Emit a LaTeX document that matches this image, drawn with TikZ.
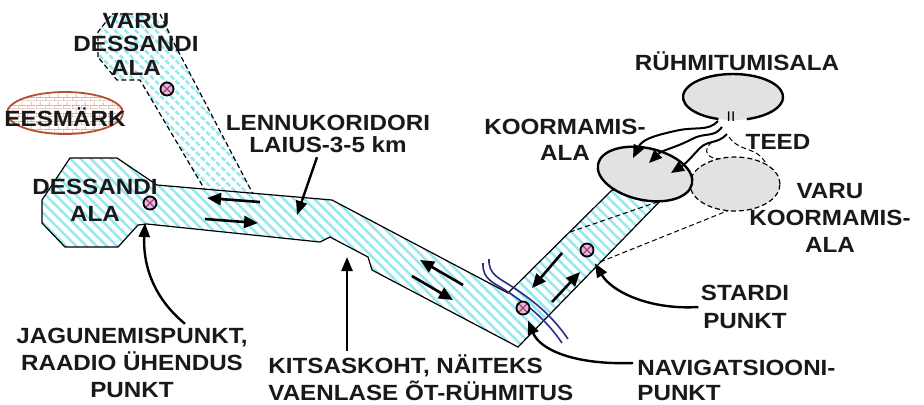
\documentclass[tikz,border=0pt]{standalone}
\usepackage{fontspec}
\setmainfont{Liberation Sans}[FakeStretch=1.1]
\usetikzlibrary{arrows.meta, shapes.geometric, patterns, patterns.meta}
\definecolor{hatchCyan}{RGB}{150,232,240}
\definecolor{areaGray}{RGB}{226,226,226}
\definecolor{pointPink}{RGB}{232,184,214}
\definecolor{crossPink}{RGB}{150,70,130}
\definecolor{riverBlue}{RGB}{45,45,140}
\definecolor{brickRed}{RGB}{180,80,50}
\pgfdeclarepatternformonly{smallBricks}{\pgfpointorigin}{\pgfpoint{4.5pt}{4pt}}{\pgfpoint{4.5pt}{4pt}}{
    \pgfsetlinewidth{0.35pt}
    \pgfpathmoveto{\pgfpoint{0pt}{0pt}}\pgfpathlineto{\pgfpoint{4.5pt}{0pt}}
    \pgfpathmoveto{\pgfpoint{0pt}{2pt}}\pgfpathlineto{\pgfpoint{4.5pt}{2pt}}
    \pgfpathmoveto{\pgfpoint{0pt}{0pt}}\pgfpathlineto{\pgfpoint{0pt}{2pt}}
    \pgfpathmoveto{\pgfpoint{2.25pt}{2pt}}\pgfpathlineto{\pgfpoint{2.25pt}{4pt}}
    \pgfusepath{stroke}
}
\tikzset{
    corridorArea/.style={
        draw=black,
        line width=0.6pt,
        preaction={fill=white},
        pattern={Lines[angle=-45, distance=3.6pt, line width=1.25pt]},
        pattern color=hatchCyan
    },
    altArea/.style={
        corridorArea,
        dash pattern=on 2.5pt off 1.5pt
    },
    zoneArea/.style={
        ellipse,
        draw=black,
        line width=1.2pt,
        fill=areaGray,
        inner sep=0pt
    },
    rvPoint/.style={
        circle,
        draw=black,
        line width=0.9pt,
        fill=pointPink,
        inner sep=0pt,
        minimum size=6.5pt,
        path picture={
            \draw[crossPink, line width=0.6pt]
                (path picture bounding box.north west) -- (path picture bounding box.south east)
                (path picture bounding box.north east) -- (path picture bounding box.south west);
        }
    },
    lblText/.style={
        font=\bfseries\fontsize{11}{13.5}\selectfont,
        text=black!90,
        align=center,
        inner sep=0pt
    },
    flowArrow/.style={-{Triangle[length=7pt, width=6pt]}, line width=1.3pt},
    pointerArrow/.style={-{Triangle[length=7pt, width=5.5pt]}, line width=1.2pt},
    roadArrow/.style={-{Triangle[length=6.5pt, width=5.5pt]}, line width=1pt},
    riverLine/.style={riverBlue, line width=0.8pt},
    altLine/.style={line width=0.5pt, dash pattern=on 2.5pt off 1.5pt}
}

\begin{document}
\begin{tikzpicture}[x=0.5pt, y=-0.5pt]
    \useasboundingbox (0,0) rectangle (924,404);

    % Reserve drop zone strip
    \draw[altArea] (98,57) -- (98,32) -- (112,14) -- (160,14) -- (175,45) -- (253,194)
        -- (205,190) -- (140,80) -- (117,80) -- cycle;

    % Flight corridor
    \draw[corridorArea] (70,158) -- (117,158) -- (157,185) -- (332,200) -- (508,293)
        -- (612,190) -- (665,196) -- (518,347) -- (372,270) -- (368,257) -- (330,237)
        -- (320,242) -- (147,224) -- (138,225) -- (118,247) -- (65,247) -- (42,223)
        -- (42,200) -- cycle;

    % Reserve loading lines
    \draw[altLine] (570,232) -- (663,200);
    \draw[altLine] (600,262) -- (742,205);

    % River
    \draw[riverLine] (483,263) .. controls (482,280) and (495,283) .. (505,290)
        .. controls (525,303) and (545,318) .. (562,343);
    \draw[riverLine] (489,259) .. controls (488,275) and (501,279) .. (511,286)
        .. controls (531,299) and (551,314) .. (568,339);

    % Road coordinates
    \coordinate (RoadStartA) at (718,121);
    \coordinate (RoadStartB) at (722,127);
    \coordinate (RoadStartC) at (727,134);
    \coordinate (RoadEndA) at (633,158);
    \coordinate (RoadEndB) at (649,163);
    \coordinate (RoadEndC) at (671,173);
    \coordinate (AltRoadA) at (729,137);
    \coordinate (AltRoadB) at (712,142);

    % Reserve roads
    \draw[altLine] (AltRoadA) .. controls (738,150) and (752,148) .. (760,156)
        .. controls (765,161) and (768,165) .. (770,172);
    \draw[altLine] (AltRoadB) .. controls (702,150) and (706,160) .. (724,159)
        .. controls (740,158) and (750,162) .. (757,170);

    % Areas
    \node[zoneArea, dash pattern=on 2.5pt off 1.5pt, line width=0.6pt,
        minimum width=45pt, minimum height=27pt] (ZoneAltLoad) at (735,184) {};
    \node[zoneArea, minimum width=48pt, minimum height=26pt, rotate=-12] (ZoneLoad) at (645,174) {};
    \node[zoneArea, draw=none, minimum width=50pt, minimum height=23pt] (ZoneGather) at (733,97) {};
    \draw[line width=1.2pt] (718.4,119) arc[start angle=107, end angle=434, x radius=50, y radius=23];
    \node[font=\fontsize{7}{7}\selectfont, inner sep=0pt] (UnitMark) at (731,117) {II};

    % Roads
    \draw[roadArrow] (RoadStartA) .. controls (708,132) and (695,126) .. (675,131)
        .. controls (652,136) and (642,140) .. (RoadEndA);
    \draw[roadArrow] (RoadStartB) .. controls (714,138) and (705,132) .. (692,139)
        .. controls (675,148) and (662,150) .. (RoadEndB);
    \draw[roadArrow] (RoadStartC) .. controls (718,144) and (708,140) .. (700,148)
        .. controls (692,156) and (688,162) .. (RoadEndC);

    % Points
    \node[rvPoint] (PointAltDrop) at (167,89) {};
    \node[rvPoint] (PointDrop) at (150,203) {};
    \node[rvPoint] (PointNav) at (523,308) {};
    \node[rvPoint] (PointStart) at (587,250) {};

    % Flow arrows
    \foreach \xa/\ya/\xb/\yb in {260/202/207/198, 205/219/258/223, 463/285/420/260,
        412/276/453/300, 562/253/532/288, 552/302/580/272}
        \draw[flowArrow] (\xa,\ya) -- (\xb,\yb);

    % Goal
    \node[ellipse, draw=brickRed, line width=0.9pt, preaction={fill=white},
        pattern=smallBricks, pattern color=brickRed!70, inner sep=0pt,
        minimum width=58pt, minimum height=21pt] (Goal) at (65,113) {};
    \node[lblText] (LblGoal) at (65,117) {EESMÄRK};

    % Labels
    \node[lblText] (LblAltDrop) at (136,44) {VARU\\[-1.75pt]DESSANDI\\[-1.75pt]ALA};
    \node[lblText] (LblWidth) at (328,134) {LENNUKORIDORI\\[-2.5pt]LAIUS-3-5 km};
    \node[lblText] (LblDrop) at (95,200) {DESSANDI\\ALA};
    \node[lblText] (LblGather) at (737,61) {RÜHMITUMISALA};
    \node[lblText] (LblLoad) at (565,140) {KOORMAMIS-\\[-0.5pt]ALA};
    \node[lblText] (LblRoads) at (778,142) {TEED};
    \node[lblText] (LblAltLoad) at (830,218) {VARU\\KOORMAMIS-\\ALA};
    \node[lblText] (LblStart) at (745,307) {STARDI\\[0.5pt]PUNKT};
    \node[lblText, anchor=west, align=left] (LblNav) at (637,380) {NAVIGATSIOONI-\\[-1pt]PUNKT};
    \node[lblText] (LblSplit) at (132,363) {JAGUNEMISPUNKT,\\RAADIO ÜHENDUS\\PUNKT};
    \node[lblText, anchor=west, align=left] (LblNarrow) at (268,378) {KITSASKOHT, NÄITEKS\\VAENLASE ÕT-RÜHMITUS};

    % Pointer arrows
    \coordinate (SplitHead) at (145,223);
    \coordinate (NarrowHead) at (347,257);
    \coordinate (WidthHead) at (297,215);
    \draw[pointerArrow] ([xshift=26.5pt, yshift=2pt]LblSplit.north) .. controls (150,295) and (143,260) .. (SplitHead);
    \draw[pointerArrow] ([xshift=39.5pt, yshift=2pt]LblNarrow.north west) -- (NarrowHead);
    \draw[pointerArrow] ([xshift=-5.5pt, yshift=-2pt]LblWidth.south) -- (WidthHead);
    \draw[pointerArrow, shorten >=3pt] ([xshift=-2pt, yshift=8.5pt]LblNav.west)
        .. controls (575,365) and (540,350) .. (PointNav);
    \draw[pointerArrow, shorten >=4pt] ([xshift=-1pt]LblStart.west)
        .. controls (650,310) and (612,292) .. (PointStart);
\end{tikzpicture}
\end{document}
